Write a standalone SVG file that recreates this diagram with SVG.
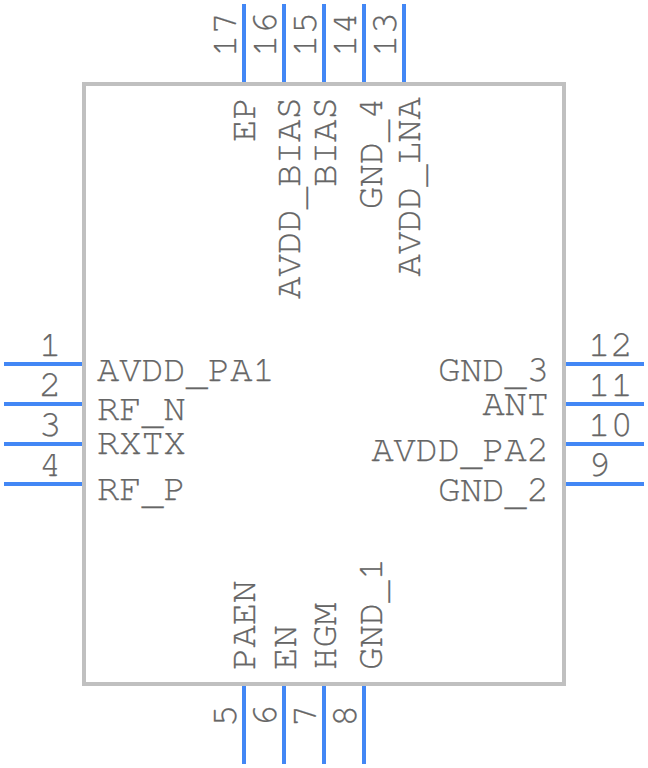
<svg xmlns="http://www.w3.org/2000/svg" width="648" height="768" viewBox="0 0 648 768">
<style>
text{font-family:"FreeMono","Liberation Mono",monospace;font-size:37.4px;fill:#666666;stroke:#666666;stroke-width:.25}
.h{font-size:37px}
.e{text-anchor:end}
.pin{stroke:#4287f5;stroke-width:4;fill:none}
.body{stroke:#c0c0c0;stroke-width:4;fill:#ffffff}
</style>
<rect width="648" height="768" fill="#ffffff"/>
<g id="body"><rect class="body" x="84" y="84" width="480" height="600"/></g>
<g id="connectors">
<path class="pin" d="M4 364H82M4 404H82M4 444H82M4 484H82"/>
<path class="pin" d="M566 364H644M566 404H644M566 444H644M566 484H644"/>
<path class="pin" d="M244 4V82M284 4V82M324 4V82M364 4V82M404 4V82"/>
<path class="pin" d="M244 686V764M284 686V764M324 686V764M364 686V764"/>
</g>
<g id="pin1"><text x="39" y="356">1</text><text class="h" x="97" y="381">AVDD<tspan dy="4">_</tspan><tspan dy="-4">PA1</tspan></text></g>
<g id="pin2"><text x="39" y="396">2</text><text class="h" x="97" y="420">RF<tspan dy="4">_</tspan><tspan dy="-4">N</tspan></text></g>
<g id="pin3"><text x="39" y="436">3</text><text class="h" x="97" y="454">RXTX</text></g>
<g id="pin4"><text x="39" y="476">4</text><text class="h" x="97" y="500">RF<tspan dy="4">_</tspan><tspan dy="-4">P</tspan></text></g>
<g id="pin12"><text x="588" y="356">12</text><text class="h e" x="549" y="381">GND<tspan dy="4">_</tspan><tspan dy="-4">3</tspan></text></g>
<g id="pin11"><text x="588" y="396">11</text><text class="h e" x="549" y="415">ANT</text></g>
<g id="pin10"><text x="588" y="436">10</text><text class="h e" x="549" y="461">AVDD<tspan dy="4">_</tspan><tspan dy="-4">PA2</tspan></text></g>
<g id="pin9"><text x="588" y="476">9</text><text class="h e" x="549" y="501">GND<tspan dy="4">_</tspan><tspan dy="-4">2</tspan></text></g>
<g id="pin17"><text transform="translate(236 57) rotate(-90)">17</text><text class="e" transform="translate(255 97) rotate(-90)">EP</text></g>
<g id="pin16"><text transform="translate(276 57) rotate(-90)">16</text><text class="e" transform="translate(300 97) rotate(-90)">AVDD<tspan dy="4">_</tspan><tspan dy="-4">BIAS</tspan></text></g>
<g id="pin15"><text transform="translate(316 57) rotate(-90)">15</text><text class="e" transform="translate(336 97) rotate(-90)">BIAS</text></g>
<g id="pin14"><text transform="translate(356 57) rotate(-90)">14</text><text class="e" transform="translate(382 97) rotate(-90)">GND<tspan dy="4">_</tspan><tspan dy="-4">4</tspan></text></g>
<g id="pin13"><text transform="translate(396 57) rotate(-90)">13</text><text class="e" transform="translate(420 97) rotate(-90)">AVDD<tspan dy="4">_</tspan><tspan dy="-4">LNA</tspan></text></g>
<g id="pin5"><text transform="translate(236 727) rotate(-90)">5</text><text transform="translate(255 670) rotate(-90)">PAEN</text></g>
<g id="pin6"><text transform="translate(276 727) rotate(-90)">6</text><text transform="translate(296 670) rotate(-90)">EN</text></g>
<g id="pin7"><text transform="translate(316 727) rotate(-90)">7</text><text transform="translate(336 670) rotate(-90)">HGM</text></g>
<g id="pin8"><text transform="translate(356 727) rotate(-90)">8</text><text transform="translate(382 670) rotate(-90)">GND<tspan dy="4">_</tspan><tspan dy="-4">1</tspan></text></g>
</svg>
